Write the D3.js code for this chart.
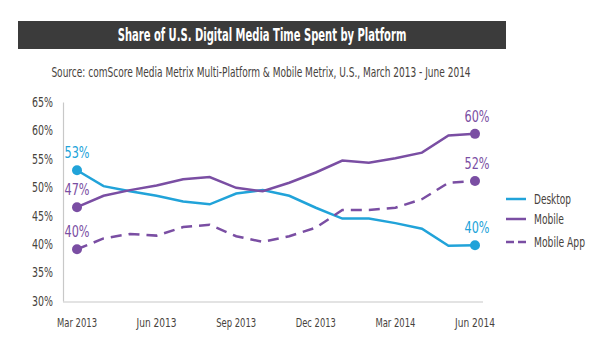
<!DOCTYPE html>
<html>
<head>
<meta charset="utf-8">
<script src="https://cdn.jsdelivr.net/npm/d3@7"></script>
<style>
  body { margin: 0; background: #fff; }
  text { font-family: "DejaVu Sans Condensed", "DejaVu Sans", sans-serif; font-stretch: condensed; }
</style>
</head>
<body>
<div class="chart"></div>
<script>
// data, one value per month Mar 2013 .. Jun 2014
let months = ["Mar 2013","Apr 2013","May 2013","Jun 2013","Jul 2013","Aug 2013","Sep 2013","Oct 2013",
	"Nov 2013","Dec 2013","Jan 2014","Feb 2014","Mar 2014","Apr 2014","May 2014","Jun 2014"];
let desktop = [53.0,50.2,49.3,48.5,47.5,47.0,48.9,49.5,48.5,46.4,44.5,44.5,43.7,42.7,39.7,39.8];
let mobile = [46.5,48.5,49.5,50.3,51.4,51.8,49.9,49.3,50.8,52.6,54.7,54.3,55.1,56.1,59.1,59.4];
let mobileApp = [39.1,41.0,41.8,41.5,43.0,43.4,41.4,40.4,41.4,42.9,46.0,46.0,46.4,47.9,50.8,51.1];
let yTicks = [30,35,40,45,50,55,60,65];
let xTickLabels = ["Mar 2013","Jun 2013","Sep 2013","Dec 2013","Mar 2014","Jun 2014"];
let startLabels = ["53%","47%","40%"];
let endLabels = ["40%","60%","52%"];

let outWidth = 614, outHeight = 361;
const blue = "#21a3d9", purple = "#7a4ea3";
const txt = "#47423c";

const svg = d3.select(".chart").append("svg")
	.attr("width", outWidth)
	.attr("height", outHeight);

// squeeze a centred text to a given width (the original uses a condensed face)
function squeeze(cx, cy, w, size, fill, weight, str){
	const g = svg.append("g");
	const t = g.append("text")
		.attr("text-anchor", "middle")
		.attr("font-size", size)
		.attr("font-weight", weight)
		.attr("fill", fill)
		.text(str);
	const len = t.node().getComputedTextLength();
	g.attr("transform", `translate(${cx},${cy}) scale(${w / len},1)`);
}

// title bar
svg.append("rect")
	.attr("x", 18).attr("y", 21)
	.attr("width", 488).attr("height", 28)
	.attr("fill", "#3b3b3b");
squeeze(262, 41, 289, 18, "#fff", "bold", "Share of U.S. Digital Media Time Spent by Platform");
squeeze(261, 77, 420, 14, txt, "normal", "Source: comScore Media Metrix Multi-Platform & Mobile Metrix, U.S., March 2013 - June 2014");

const x = d3.scaleLinear().domain([0, months.length - 1]).range([77, 475]);
const y = d3.scaleLinear().domain([30, 65]).range([301, 102]);

// axes
const yAxis = svg.append("g")
	.attr("transform", "translate(63,0)")
	.call(d3.axisLeft(y).tickValues(yTicks).tickSize(0).tickPadding(10).tickFormat(d => d + "%"));
yAxis.select(".domain").attr("stroke", "#c8c8c8").attr("stroke-width", 1.2);
yAxis.selectAll("text")
	.attr("font-size", 13.5)
	.attr("fill", txt)
	.style("font-family", "'DejaVu Sans Condensed', 'DejaVu Sans', sans-serif")
	.attr("textLength", 21)
	.attr("lengthAdjust", "spacingAndGlyphs");

svg.append("line")
	.attr("x1", 63).attr("x2", 483)
	.attr("y1", 302).attr("y2", 302)
	.attr("stroke", "#c8c8c8").attr("stroke-width", 1.2);

svg.append("g").selectAll("text")
	.data(xTickLabels)
	.enter().append("text")
	.attr("x", d => x(months.indexOf(d)))
	.attr("y", 327)
	.attr("text-anchor", "middle")
	.attr("font-size", 13)
	.attr("fill", txt)
	.attr("textLength", 40)
	.attr("lengthAdjust", "spacingAndGlyphs")
	.text(d => d);

// lines
const series = [
	{name: "Desktop", values: desktop, color: blue, dash: null, w: 37},
	{name: "Mobile", values: mobile, color: purple, dash: null, w: 30},
	{name: "Mobile App", values: mobileApp, color: purple, dash: "11,7", w: 51}
];
const line = d3.line().x((d, i) => x(i)).y(d => y(d));

series.forEach((s, k) => {
	svg.append("path")
		.datum(s.values)
		.attr("d", line)
		.attr("fill", "none")
		.attr("stroke", s.color)
		.attr("stroke-width", 2.5)
		.attr("stroke-dasharray", s.dash);
	let last = s.values.length - 1;
	[0, last].forEach(i => {
		svg.append("circle")
			.attr("cx", x(i)).attr("cy", y(s.values[i]))
			.attr("r", 5).attr("fill", s.color);
	});
	svg.append("text")
		.attr("x", x(0)).attr("y", y(s.values[0]) - 12)
		.attr("text-anchor", "middle")
		.attr("font-size", 16)
		.attr("fill", s.color)
		.attr("textLength", 25)
		.attr("lengthAdjust", "spacingAndGlyphs")
		.text(startLabels[k]);
	svg.append("text")
		.attr("x", x(last) + 2).attr("y", y(s.values[last]) - 12)
		.attr("text-anchor", "middle")
		.attr("font-size", 16)
		.attr("fill", s.color)
		.attr("textLength", 25)
		.attr("lengthAdjust", "spacingAndGlyphs")
		.text(endLabels[k]);
});

// legend
const legend = svg.append("g").attr("transform", "translate(506,199)");
series.forEach((s, k) => {
	let g = legend.append("g").attr("transform", `translate(0, ${[0, 20, 43][k]})`);
	g.append("line")
		.attr("x1", 0).attr("x2", 20)
		.attr("stroke", s.color).attr("stroke-width", 2.5)
		.attr("stroke-dasharray", s.dash ? "8,4" : null);
	g.append("text")
		.attr("x", 28).attr("y", 5)
		.attr("font-size", 14.5)
		.attr("fill", txt)
		.attr("textLength", s.w)
		.attr("lengthAdjust", "spacingAndGlyphs")
		.text(s.name);
});
</script>
</body>
</html>
